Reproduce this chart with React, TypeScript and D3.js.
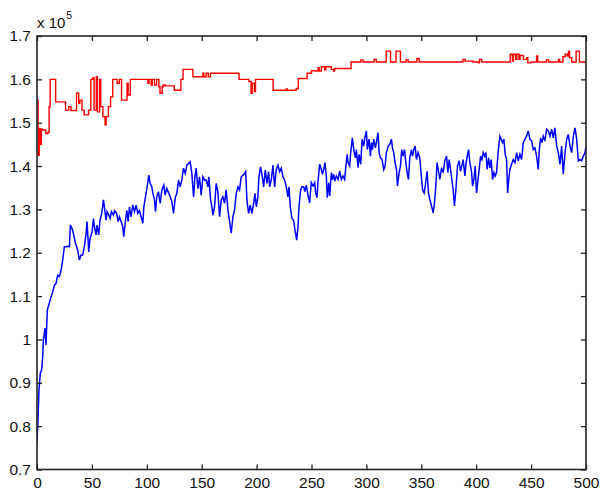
import React, { useEffect, useRef } from 'react';
import * as d3 from 'd3';

// generation ticks and fitness ticks (fitness in units of 1e5)
const genTicks = [0, 50, 100, 150, 200, 250, 300, 350, 400, 450, 500];
const fitTicks = [0.7, 0.8, 0.9, 1.0, 1.1, 1.2, 1.3, 1.4, 1.5, 1.6, 1.7];

// red: best individual, [generation, fitness] change points (held until next)
const bestRun: [number, number][] = [
  [0, 1.552], [1, 1.425], [2, 1.487], [3, 1.45], [4, 1.485], [5, 1.483], [8, 1.475], [10, 1.478],
  [11, 1.537], [12, 1.6], [17, 1.548], [26, 1.529], [29, 1.537], [31, 1.528], [36, 1.568], [38, 1.545],
  [39, 1.552], [41, 1.529], [43, 1.518], [47, 1.529], [49, 1.6], [51, 1.604], [52, 1.529], [54, 1.606],
  [55, 1.525], [57, 1.6], [58, 1.537], [60, 1.514], [62, 1.495], [63, 1.514], [65, 1.537], [67, 1.56],
  [69, 1.6], [73, 1.591], [75, 1.6], [77, 1.552], [82, 1.591], [83, 1.564], [85, 1.6], [101, 1.591],
  [102, 1.6], [104, 1.587], [105, 1.6], [107, 1.587], [109, 1.6], [111, 1.583], [112, 1.568], [114, 1.583],
  [115, 1.587], [117, 1.585], [125, 1.575], [131, 1.6], [133, 1.623], [142, 1.606], [151, 1.614], [152, 1.606],
  [154, 1.614], [156, 1.606], [158, 1.614], [184, 1.6], [193, 1.595], [195, 1.568], [196, 1.591], [198, 1.572],
  [199, 1.6], [215, 1.575], [227, 1.578], [228, 1.575], [236, 1.579], [238, 1.602], [246, 1.614], [250, 1.62],
  [254, 1.619], [256, 1.627], [257, 1.619], [259, 1.629], [262, 1.622], [263, 1.629], [268, 1.623], [270, 1.619],
  [271, 1.625], [286, 1.64], [295, 1.645], [297, 1.64], [307, 1.646], [309, 1.64], [318, 1.665], [322, 1.64],
  [327, 1.665], [331, 1.64], [336, 1.645], [338, 1.64], [346, 1.648], [348, 1.64], [388, 1.646], [390, 1.642],
  [397, 1.64], [402, 1.638], [403, 1.646], [405, 1.64], [431, 1.658], [433, 1.642], [434, 1.658], [436, 1.646],
  [437, 1.658], [439, 1.646], [440, 1.655], [443, 1.646], [446, 1.65], [447, 1.638], [450, 1.64], [455, 1.654],
  [456, 1.64], [464, 1.645], [466, 1.64], [475, 1.646], [476, 1.64], [479, 1.652], [481, 1.658], [483, 1.654],
  [484, 1.665], [485, 1.65], [487, 1.64], [491, 1.665], [494, 1.64], [500, 1.64],
];

// blue: population mean, [generation, fitness]
const meanRun: [number, number][] = [
  [0, 0.764], [0.9, 0.814], [1.8, 0.883], [3, 0.922], [4.3, 0.93], [5.2, 0.96], [5.8, 0.999], [7.3, 1.026],
  [8.2, 0.987], [9.4, 1.068], [11.2, 1.084], [12.8, 1.098], [14.3, 1.11], [15.8, 1.125], [17.3, 1.129], [18.8, 1.148],
  [20.4, 1.145], [21.9, 1.16], [23.4, 1.183], [24.9, 1.214], [26.4, 1.214], [28, 1.215], [29.5, 1.214], [30.4, 1.264],
  [31.9, 1.256], [33.1, 1.245], [35, 1.222], [37.1, 1.206], [38.6, 1.183], [40.1, 1.195], [41.6, 1.195], [43.2, 1.214],
  [44.7, 1.245], [45.6, 1.272], [47.1, 1.202], [48.3, 1.233], [50.2, 1.248], [51.4, 1.279], [52.3, 1.26], [53.8, 1.241],
  [54.7, 1.264], [56.2, 1.241], [57.4, 1.275], [59, 1.291], [60.5, 1.322], [61.4, 1.306], [62.9, 1.275], [63.8, 1.295],
  [65.3, 1.287], [66.6, 1.279], [67.8, 1.295], [69.6, 1.287], [70.8, 1.297], [72.6, 1.291], [73.9, 1.272], [75.1, 1.283],
  [76.6, 1.272], [78.1, 1.26], [79, 1.237], [80.5, 1.272], [81.8, 1.298], [83, 1.272], [84.2, 1.306], [85.7, 1.283],
  [87.2, 1.31], [88.8, 1.295], [90.3, 1.31], [91.8, 1.291], [93.3, 1.298], [94.8, 1.283], [96.4, 1.268], [97.3, 1.306],
  [98.8, 1.329], [100.3, 1.352], [101.8, 1.379], [103, 1.36], [104.6, 1.352], [105.5, 1.337], [107, 1.322], [107.9, 1.295],
  [109.1, 1.329], [110.6, 1.341], [112.2, 1.314], [113.7, 1.345], [115.5, 1.356], [116.7, 1.333], [118.2, 1.348], [120.1, 1.337],
  [121.3, 1.329], [122.8, 1.318], [124.3, 1.291], [126.1, 1.329], [127.4, 1.337], [128.9, 1.368], [130.4, 1.352], [131.9, 1.368],
  [133.4, 1.395], [135, 1.383], [136.5, 1.402], [138, 1.406], [139.5, 1.41], [141, 1.383], [142.6, 1.329], [143.8, 1.375],
  [145, 1.395], [146.5, 1.348], [148, 1.375], [149.5, 1.333], [151.1, 1.375], [152.6, 1.368], [154.1, 1.368], [155.6, 1.352],
  [156.5, 1.375], [158.1, 1.322], [159.3, 1.306], [160.2, 1.287], [161.7, 1.306], [163.2, 1.36], [164.7, 1.341], [166.3, 1.283],
  [167.8, 1.322], [169.3, 1.329], [170.8, 1.314], [172.3, 1.345], [173.9, 1.298], [175.4, 1.272], [176.9, 1.245], [178.4, 1.283],
  [179.9, 1.298], [181.5, 1.337], [183, 1.352], [184.5, 1.345], [186, 1.375], [187.5, 1.379], [189, 1.383], [190, 1.387],
  [191.2, 1.322], [192.7, 1.291], [194.2, 1.31], [195.7, 1.291], [197.3, 1.314], [198.5, 1.337], [199.7, 1.306], [201.2, 1.329],
  [202.1, 1.375], [203.6, 1.398], [205.2, 1.375], [206.4, 1.352], [207.9, 1.391], [209.4, 1.36], [210.9, 1.387], [211.9, 1.352],
  [213.4, 1.368], [214.9, 1.402], [216.4, 1.352], [217.9, 1.391], [219.5, 1.402], [221, 1.387], [222.5, 1.395], [224, 1.375],
  [225.5, 1.368], [227, 1.352], [228.6, 1.329], [229.5, 1.352], [230.7, 1.306], [232.2, 1.279], [233.7, 1.275], [235, 1.252],
  [236.5, 1.229], [237.7, 1.26], [238.6, 1.306], [240.1, 1.345], [241.3, 1.352], [242.9, 1.352], [244, 1.341], [245.3, 1.356],
  [246.8, 1.333], [248.3, 1.315], [249.8, 1.362], [251.4, 1.354], [252.9, 1.362], [253.8, 1.338], [255, 1.327], [255.9, 1.362],
  [257.4, 1.404], [259, 1.392], [259.9, 1.381], [261.1, 1.392], [262.3, 1.408], [263.5, 1.377], [264.4, 1.327], [265.7, 1.362],
  [266.6, 1.331], [268.1, 1.385], [269, 1.369], [270.2, 1.381], [271.1, 1.365], [272.6, 1.377], [274.2, 1.369], [275.7, 1.388],
  [277.2, 1.369], [278.7, 1.377], [280.2, 1.369], [281.2, 1.396], [282.4, 1.427], [283.3, 1.408], [284.8, 1.4], [285.7, 1.431],
  [287.2, 1.465], [288.5, 1.438], [290, 1.419], [290.9, 1.438], [292.4, 1.396], [293.3, 1.427], [294.8, 1.404], [296.1, 1.462],
  [297.6, 1.446], [298.5, 1.465], [300, 1.481], [300.9, 1.438], [302.4, 1.462], [303.7, 1.423], [304.6, 1.454], [305.5, 1.438],
  [306.7, 1.462], [308.2, 1.442], [309.1, 1.454], [310.6, 1.477], [311.6, 1.431], [312.8, 1.419], [314.3, 1.415], [315.8, 1.392],
  [317, 1.4], [318.2, 1.431], [319.8, 1.446], [321.3, 1.45], [322.8, 1.462], [323.7, 1.442], [324.9, 1.431], [326.1, 1.408],
  [327.4, 1.392], [328.3, 1.354], [329.8, 1.385], [331, 1.4], [332.2, 1.438], [333.4, 1.423], [334.7, 1.438], [335.9, 1.408],
  [337.1, 1.385], [338.3, 1.369], [339.5, 1.419], [341, 1.438], [342, 1.423], [343.2, 1.438], [344.4, 1.446], [345.6, 1.415],
  [347.1, 1.431], [348.6, 1.419], [349.5, 1.392], [351.1, 1.346], [352.6, 1.338], [353.8, 1.358], [355.3, 1.388], [356.5, 1.338],
  [357.8, 1.323], [359.3, 1.308], [360.8, 1.292], [362, 1.315], [363.2, 1.354], [364.4, 1.408], [365.7, 1.388], [366.9, 1.369],
  [368.4, 1.396], [369.9, 1.385], [371.4, 1.412], [373, 1.423], [374.2, 1.385], [375.4, 1.415], [376.6, 1.392], [377.8, 1.369],
  [379, 1.346], [380.2, 1.308], [381.5, 1.346], [383, 1.4], [384.5, 1.412], [385.7, 1.388], [386.9, 1.4], [388.1, 1.415],
  [389.7, 1.377], [390.6, 1.404], [391.8, 1.423], [393, 1.438], [394.2, 1.408], [395.7, 1.388], [396.7, 1.354], [397.9, 1.369],
  [399.1, 1.4], [400.3, 1.338], [401.5, 1.365], [402.7, 1.392], [404, 1.423], [405.2, 1.415], [406.4, 1.431], [407.6, 1.423],
  [408.8, 1.431], [410, 1.392], [411.3, 1.419], [412.5, 1.396], [413.7, 1.415], [414.9, 1.369], [416.1, 1.385], [417.3, 1.377],
  [418.5, 1.385], [420.1, 1.435], [421.6, 1.469], [422.8, 1.462], [424, 1.454], [425.2, 1.462], [426.4, 1.427], [427.7, 1.415],
  [428.6, 1.338], [429.8, 1.373], [430.7, 1.392], [432.2, 1.404], [433.7, 1.415], [435.3, 1.408], [436.8, 1.431], [438.3, 1.412],
  [439.8, 1.427], [441.3, 1.415], [442.9, 1.454], [444.4, 1.462], [445.9, 1.469], [447.4, 1.481], [448.9, 1.462], [450.5, 1.458],
  [452, 1.438], [453.5, 1.442], [455, 1.423], [456.5, 1.392], [457.5, 1.438], [458.7, 1.465], [459.9, 1.454], [461.1, 1.469],
  [462.6, 1.458], [464.1, 1.485], [465.7, 1.481], [467.2, 1.469], [468.7, 1.485], [470.2, 1.465], [471.7, 1.488], [473.3, 1.446],
  [474.8, 1.431], [476.3, 1.404], [477.8, 1.446], [479.3, 1.381], [480.9, 1.431], [482.4, 1.462], [483.9, 1.473], [485.4, 1.446],
  [486.9, 1.431], [488.5, 1.469], [490, 1.488], [491.5, 1.462], [493, 1.412], [494.5, 1.415], [496, 1.412], [497.6, 1.423],
  [499.1, 1.431], [500, 1.446],
];

const FONT = '"Liberation Sans", Arial, Helvetica, sans-serif';

export default function App() {
  const ref = useRef<SVGSVGElement>(null);

  useEffect(() => {
    const width = 600, height = 494;
    const margin = { top: 36, right: 14, bottom: 24.5, left: 37 };
    const x = d3.scaleLinear().domain([0, 500]).range([margin.left, width - margin.right]);
    const y = d3.scaleLinear().domain([0.7, 1.7]).range([height - margin.bottom, margin.top]);

    const svg = d3.select(ref.current).attr('width', width).attr('height', height);
    svg.selectAll('*').remove();

    svg.append('rect').attr('width', width).attr('height', height).attr('fill', '#fff');

    svg.append('clipPath').attr('id', 'plot')
      .append('rect')
      .attr('x', x(0)).attr('y', y(1.7))
      .attr('width', x(500) - x(0)).attr('height', y(0.7) - y(1.7));

    const g = svg.append('g').attr('clip-path', 'url(#plot)');

    const stepLine = d3.line<[number, number]>()
      .x(d => x(d[0])).y(d => y(d[1]))
      .curve(d3.curveStepAfter);
    const plainLine = d3.line<[number, number]>()
      .x(d => x(d[0])).y(d => y(d[1]));

    g.append('path').datum(bestRun)
      .attr('d', stepLine)
      .attr('fill', 'none').attr('stroke', '#ff0000').attr('stroke-width', 1.4);

    g.append('path').datum(meanRun)
      .attr('d', plainLine)
      .attr('fill', 'none').attr('stroke', '#0000ff').attr('stroke-width', 1.5);

    const axisColor = '#222';
    const styleAxis = (sel: any) => {
      sel.selectAll('.domain').remove();
      sel.selectAll('line').attr('stroke', axisColor).attr('stroke-width', 1.3);
      sel.selectAll('text')
        .attr('fill', '#111')
        .style('font-family', FONT)
        .style('font-size', '15.5px');
    };

    svg.append('g')
      .attr('transform', `translate(0,${y(0.7)})`)
      .call(d3.axisBottom(x).tickValues(genTicks).tickSizeInner(-5).tickSizeOuter(0).tickPadding(7).tickFormat(d3.format('d')))
      .call(styleAxis);

    svg.append('g')
      .attr('transform', `translate(0,${y(1.7)})`)
      .call(d3.axisTop(x).tickValues(genTicks).tickSizeInner(-5).tickSizeOuter(0).tickFormat(() => ''))
      .call(styleAxis);

    svg.append('g')
      .attr('transform', `translate(${x(0)},0)`)
      .call(d3.axisLeft(y).tickValues(fitTicks).tickSizeInner(-5).tickSizeOuter(0).tickPadding(6)
        .tickFormat(d => String(+(+d).toFixed(1))))
      .call(styleAxis);

    svg.append('g')
      .attr('transform', `translate(${x(500)},0)`)
      .call(d3.axisRight(y).tickValues(fitTicks).tickSizeInner(-5).tickSizeOuter(0).tickFormat(() => ''))
      .call(styleAxis);

    svg.append('rect')
      .attr('x', x(0)).attr('y', y(1.7))
      .attr('width', x(500) - x(0)).attr('height', y(0.7) - y(1.7))
      .attr('fill', 'none').attr('stroke', axisColor).attr('stroke-width', 1.6);

    const exp = svg.append('text')
      .attr('x', x(0)).attr('y', 28)
      .attr('fill', '#111')
      .style('font-family', FONT)
      .style('font-size', '15px');
    exp.append('tspan').text('x 10');
    exp.append('tspan').attr('dy', -9).attr('dx', 1).style('font-size', '10.5px').text('5');
  }, []);

  return (
    <svg ref={ref} style={{ position: 'absolute', left: 0, top: 0 }} />
  );
}
